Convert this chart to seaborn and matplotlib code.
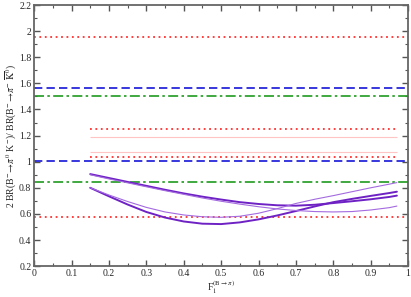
import numpy as np
import pandas as pd
import matplotlib
matplotlib.use("Agg")
import matplotlib.pyplot as plt
from matplotlib.ticker import MultipleLocator, FuncFormatter
import seaborn as sns

# === Data ===
x_f1 = [0.15, 0.2, 0.25, 0.3, 0.35, 0.4, 0.45, 0.5, 0.55, 0.6,
        0.65, 0.7, 0.75, 0.8, 0.85, 0.9, 0.95, 0.97]
thick_a = [0.905, 0.875, 0.845, 0.815, 0.785, 0.757, 0.732, 0.71, 0.69, 0.676,
           0.666, 0.663, 0.67, 0.683, 0.697, 0.712, 0.73, 0.74]
thick_b = [0.80, 0.735, 0.672, 0.615, 0.572, 0.542, 0.525, 0.522, 0.535, 0.558,
           0.588, 0.622, 0.657, 0.69, 0.715, 0.738, 0.76, 0.77]
thin_c = [0.80, 0.745, 0.695, 0.65, 0.615, 0.592, 0.578, 0.574, 0.582, 0.605,
          0.64, 0.68, 0.712, 0.74, 0.77, 0.80, 0.828, 0.84]
thin_d = [0.90, 0.868, 0.838, 0.808, 0.778, 0.75, 0.722, 0.697, 0.675, 0.655,
          0.638, 0.626, 0.618, 0.615, 0.618, 0.63, 0.648, 0.66]

# full-width reference levels
red_full = [1.955, 0.578]
blue_full = [1.566, 1.005]
green_full = [1.505, 0.845]
# short levels spanning the F1 range
short_x = [0.15, 0.97]
red_short = [1.25, 1.033]
pink_short = [1.19, 1.078]

n = len(x_f1)
df = pd.DataFrame({
    "F1": x_f1 * 4,
    "ratio": thick_a + thick_b + thin_c + thin_d,
    "curve": ["a"] * n + ["b"] * n + ["c"] * n + ["d"] * n,
})

sns.set_style("ticks")
plt.rcParams["font.family"] = ["Liberation Serif", "DejaVu Serif"]
plt.rcParams["mathtext.fontset"] = "stix"

fig, ax = plt.subplots(figsize=(4.11, 2.97), dpi=100)
fig.subplots_adjust(left=0.083, right=0.993, top=0.983, bottom=0.104)

for y in red_full:
    ax.axhline(y, color="#ff3030", ls=(0, (1, 2)), lw=1.3)
for y in blue_full:
    ax.axhline(y, color="#1414d8", ls=(0, (5, 2.5)), lw=1.2)
for y in green_full:
    ax.axhline(y, color="#1f9a1f", ls=(0, (6, 2, 1.5, 2)), lw=1.2)
ax.hlines(red_short, short_x[0], short_x[1], color="#ff3030", ls=(0, (1, 2)), lw=1.3)
ax.hlines(pink_short, short_x[0], short_x[1], color="#ffc4c4", lw=0.8)

sns.lineplot(data=df, x="F1", y="ratio", hue="curve", size="curve",
             palette={"a": "#6f22c4", "b": "#6f22c4", "c": "#a46ae0", "d": "#a46ae0"},
             sizes={"a": 1.4, "b": 1.4, "c": 0.8, "d": 0.8},
             legend=False, ax=ax)

ax.set_xlim(0, 1)
ax.set_ylim(0.2, 2.2)
ax.xaxis.set_major_locator(MultipleLocator(0.1))
ax.xaxis.set_minor_locator(MultipleLocator(0.05))
ax.yaxis.set_major_locator(MultipleLocator(0.2))
ax.yaxis.set_minor_locator(MultipleLocator(0.1))
fmt = FuncFormatter(lambda v, p: f"{v:.1f}".rstrip("0").rstrip(".") if abs(v) > 1e-9 else "0")
ax.xaxis.set_major_formatter(fmt)
ax.yaxis.set_major_formatter(fmt)
ax.tick_params(which="both", direction="in", top=True, right=True, color="#555555",
               labelsize=7, pad=2)
ax.tick_params(which="major", length=4, width=1)
ax.tick_params(which="minor", length=2, width=0.8)
for s in ax.spines.values():
    s.set_color("#666666")
    s.set_linewidth(1.3)

ax.set_xlabel(r"F$_1^{(\mathrm{B}\rightarrow\pi)}$", fontsize=7, labelpad=0)
ax.set_ylabel(r"2 BR(B$^{-}\!\rightarrow\!\pi^{0}$ K$^{-}$)/ BR(B$^{-}\!\rightarrow\!\pi^{-}$ $\overline{\mathrm{K}}^{0}$)",
              fontsize=7, labelpad=1)

plt.savefig("out.png", dpi=100)
